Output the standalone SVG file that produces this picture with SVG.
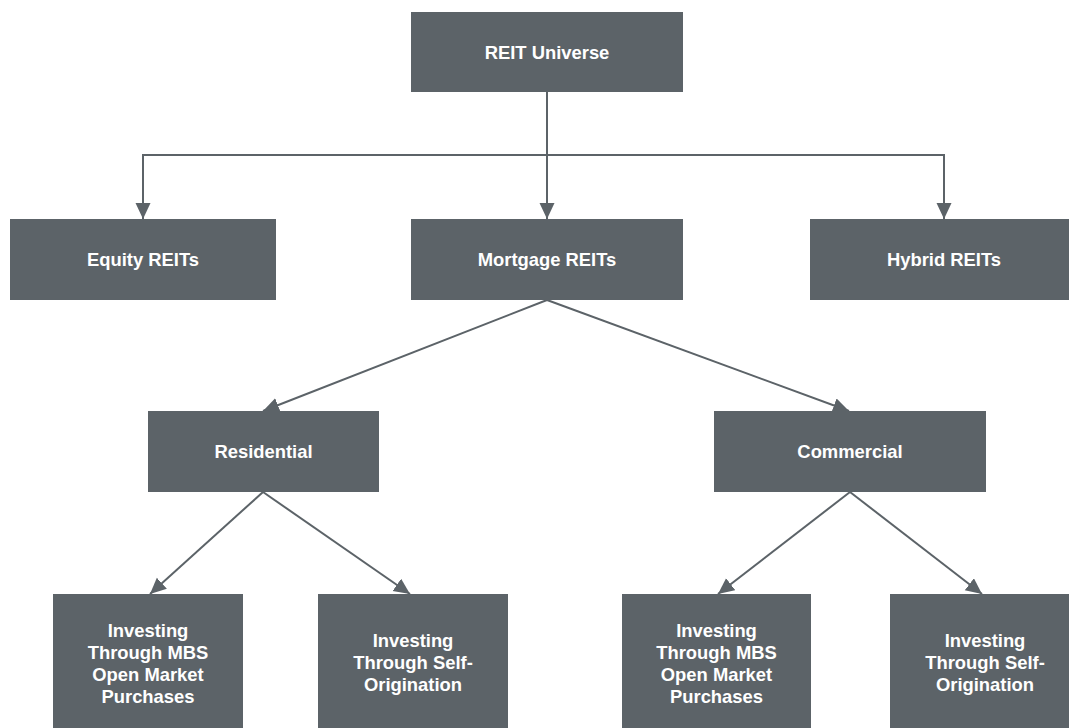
<svg xmlns="http://www.w3.org/2000/svg" width="1069" height="728" viewBox="0 0 1069 728">
<style>
.box{fill:#5c6368;}
.t{fill:#ffffff;font-family:"Liberation Sans",Arial,sans-serif;font-weight:bold;font-size:18.4px;text-anchor:middle;}
.c{fill:none;stroke:#5c6368;stroke-width:2;marker-end:url(#ah);}
</style>
<defs>
<marker id="ah" markerUnits="userSpaceOnUse" markerWidth="17" markerHeight="16" refX="16" refY="7.5" orient="auto">
<path d="M0,0 L16,7.5 L0,15 z" fill="#5c6368"/>
</marker>
</defs>
<rect width="1069" height="728" fill="#ffffff"/>
<g id="connectors">
<path class="c" d="M547,92 V155 H143 V219"/>
<path class="c" d="M547,92 V219"/>
<path class="c" d="M547,92 V155 H944 V219"/>
<path class="c" d="M547,300 L263,411"/>
<path class="c" d="M547,300 L849,411"/>
<path class="c" d="M263,492 L150,594"/>
<path class="c" d="M263,492 L410,594"/>
<path class="c" d="M850,492 L718,594"/>
<path class="c" d="M850,492 L982,594"/>
</g>
<g id="reit-universe"><rect class="box" x="411" y="12" width="272" height="80"/><text class="t" x="547" y="59">REIT Universe</text></g>
<g id="equity"><rect class="box" x="10" y="219" width="266" height="81"/><text class="t" x="143" y="266">Equity REITs</text></g>
<g id="mortgage"><rect class="box" x="411" y="219" width="272" height="81"/><text class="t" x="547" y="266">Mortgage REITs</text></g>
<g id="hybrid"><rect class="box" x="810" y="219" width="270" height="81"/><text class="t" x="944" y="266">Hybrid REITs</text></g>
<g id="residential"><rect class="box" x="148" y="411" width="231" height="81"/><text class="t" x="263.5" y="458">Residential</text></g>
<g id="commercial"><rect class="box" x="714" y="411" width="272" height="81"/><text class="t" x="850" y="458">Commercial</text></g>
<g id="res-mbs"><rect class="box" x="53" y="594" width="190" height="150"/><text class="t" x="148" y="637">Investing<tspan x="148" y="659">Through MBS</tspan><tspan x="148" y="681">Open Market</tspan><tspan x="148" y="703">Purchases</tspan></text></g>
<g id="res-self"><rect class="box" x="318" y="594" width="190" height="150"/><text class="t" x="413" y="647">Investing<tspan x="413" y="669">Through Self-</tspan><tspan x="413" y="691">Origination</tspan></text></g>
<g id="com-mbs"><rect class="box" x="622" y="594" width="189" height="150"/><text class="t" x="716.5" y="637">Investing<tspan x="716.5" y="659">Through MBS</tspan><tspan x="716.5" y="681">Open Market</tspan><tspan x="716.5" y="703">Purchases</tspan></text></g>
<g id="com-self"><rect class="box" x="890" y="594" width="190" height="150"/><text class="t" x="985" y="647">Investing<tspan x="985" y="669">Through Self-</tspan><tspan x="985" y="691">Origination</tspan></text></g>
</svg>
